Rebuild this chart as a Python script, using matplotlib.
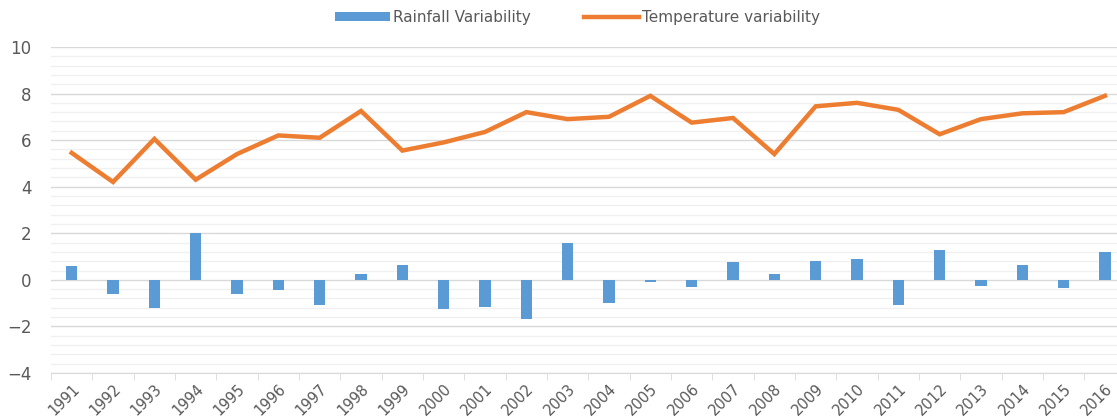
import numpy as np
import matplotlib.pyplot as plt
from matplotlib.ticker import MultipleLocator

#%% Dados
anos = [str(a) for a in range(1991, 2017)]
chuva = [0.6, -0.6, -1.2, 2.0, -0.6, -0.45, -1.1, 0.25, 0.65, -1.25,
         -1.15, -1.7, 1.6, -1.0, -0.08, -0.3, 0.75, 0.25, 0.8, 0.9,
         -1.1, 1.3, -0.25, 0.65, -0.35, 1.2]
temperatura = [5.45, 4.2, 6.05, 4.3, 5.4, 6.2, 6.1, 7.25, 5.55, 5.9,
               6.35, 7.2, 6.9, 7.0, 7.9, 6.75, 6.95, 5.4, 7.45, 7.6,
               7.3, 6.25, 6.9, 7.15, 7.2, 7.9]

azul = '#5B9BD5'
laranja = '#ED7D31'
cinza = '#595959'

#%% Figura
fig = plt.figure(figsize=(11.17, 4.18), dpi=100)
ax = fig.add_axes([0.0457, 0.1077, 0.962, 0.78])

x = np.arange(len(anos))
barras = ax.bar(x, chuva, width=0.27, color=azul, zorder=3)
linha, = ax.plot(x, temperatura, color=laranja, lw=3.2, solid_joinstyle='miter',
                 zorder=4)

ax.set_xlim(-0.5, len(anos) - 0.5)
ax.set_ylim(-4, 10)
ax.yaxis.set_major_locator(MultipleLocator(2))
ax.yaxis.set_minor_locator(MultipleLocator(0.4))
ax.grid(axis='y', which='major', color='#d9d9d9', lw=1, zorder=0)
ax.grid(axis='y', which='minor', color='#f0f0f0', lw=1, zorder=0)

ax.set_xticks(x)
ax.set_xticklabels(anos, rotation=45, ha='right', rotation_mode='anchor',
                   fontsize=10.5, color=cinza)
ax.set_xticks(np.arange(-0.5, len(anos)), minor=True)
ax.tick_params(axis='x', which='major', length=0, pad=6)
ax.tick_params(axis='x', which='minor', length=5, color='#d9d9d9')
ax.tick_params(axis='y', which='both', length=0, labelsize=12,
               labelcolor=cinza, pad=14)

for s in ['top', 'right', 'left']:
    ax.spines[s].set_visible(False)
ax.spines['bottom'].set_color('#d9d9d9')

fig.legend([barras, linha], ['Rainfall Variability', 'Temperature variability'],
           loc='upper center', bbox_to_anchor=(0.517, 1.01), ncol=2,
           frameon=False, fontsize=11, labelcolor=cinza,
           handlelength=3.6, handleheight=0.5, columnspacing=3.5,
           handletextpad=0.2)

fig.savefig('out.png', dpi=100)
